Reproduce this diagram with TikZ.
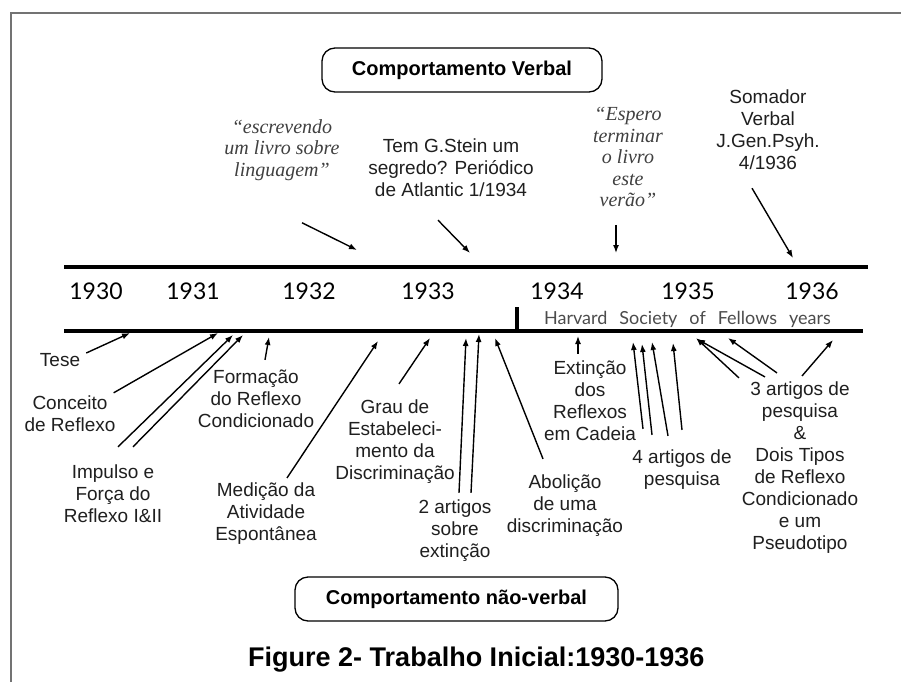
\documentclass[tikz,border=0pt]{standalone}
\usepackage{fontspec}
\setmainfont{Liberation Sans}
\newfontfamily\quotefont{Liberation Serif}
\newfontfamily\yearfont{Lato}
\usetikzlibrary{arrows.meta}

\begin{document}
\begin{tikzpicture}[x=1pt, y=-1pt,
    lbl/.style={align=center, inner sep=0pt, text=black!88, font=\fontsize{19}{22}\selectfont},
    quo/.style={align=center, inner sep=0pt, text=black!75, font=\quotefont\itshape\fontsize{20}{21.5}\selectfont},
    yr/.style={inner sep=0pt, font=\yearfont\fontsize{23}{23}\selectfont},
    cbox/.style={draw, line width=1.3pt, rounded corners=13pt, minimum height=44pt, font=\bfseries\fontsize{20}{20}\selectfont},
    arr/.style={-{Latex[length=8pt,width=6pt]}, line width=1.4pt},
    bar/.style={line width=4pt}]
  \useasboundingbox[fill=white] (0,0) rectangle (901,682);
  \draw[black!55, line width=2pt] (11,682) -- (11,13) -- (901,13);

  \draw[bar] (64,267) -- (868,267);
  \draw[bar] (64,331) -- (863,331);
  \draw[bar] (517,307) -- (517,331);
  \foreach \yy/\xx in {1930/96,1931/193,1932/309,1933/428,1934/557,1935/688,1936/812}
    \node[yr] (y\yy) at (\xx,291) {\yy};
  \node[inner sep=0pt, text=black!70, font=\yearfont\fontsize{18}{18}\selectfont] (harvard) at (687.5,319) {\spaceskip=12pt\relax Harvard Society of Fellows years};

  \node[cbox, minimum width=280pt] (verbal) at (462,70) {Comportamento Verbal};
  \node[cbox, minimum width=323pt] (naoverbal) at (456.5,599) {Comportamento não-verbal};
  \node[anchor=west, inner sep=0pt, font=\bfseries\fontsize{27}{27}\selectfont] (caption) at (248,660) {Figure 2- Trabalho Inicial:1930-1936};

  \node[quo] (escr) at (282,150) {“escrevendo\\um livro sobre\\linguagem”};
  \node[lbl] (tem) at (451,168) {Tem G.Stein um\\segredo? Periódico\\de Atlantic 1/1934};
  \node[quo] (esp) at (628,157) {“Espero\\terminar\\o livro\\este\\verão”};
  \node[lbl] (som) at (768,130) {Somador\\Verbal\\J.Gen.Psyh.\\4/1936};

  \node[lbl] (tese) at (60,360) {Tese};
  \node[lbl] (conc) at (70,414) {Conceito\\de Reflexo};
  \node[lbl] (imp) at (113,494) {Impulso e\\Força do\\Reflexo I\&II};
  \node[lbl] (form) at (256,399) {Formação\\do Reflexo\\Condicionado};
  \node[lbl] (med) at (266,514) {Medição da\\Atividade\\Espontânea};
  \node[lbl] (grau) at (395,442) {Grau de\\Estabeleci-\\mento da\\Discriminação};
  \node[lbl] (ext) at (455,531) {2 artigos\\sobre\\extinção};
  \node[lbl] (abol) at (565,506) {Abolição\\de uma\\discriminação};
  \node[lbl] (cad) at (590,401) {Extinção\\dos\\Reflexos\\em Cadeia};
  \node[lbl] (quatro) at (682,470) {4 artigos de\\pesquisa};
  \node[lbl] (tres) at (800,468) {3 artigos de\\pesquisa\\\&\\Dois Tipos\\de Reflexo\\Condicionado\\e um\\Pseudotipo};

  \coordinate (pEscr) at (357,250);
  \coordinate (pTem) at (470,253);
  \coordinate (pEsp) at (616,253);
  \coordinate (pSom) at (793,258);
  \coordinate (pTese) at (130,333);
  \coordinate (pConc) at (218,333);
  \coordinate (pImpA) at (233,335);
  \coordinate (pImpB) at (243,335);
  \coordinate (pForm) at (269,337);
  \coordinate (pMed) at (378,341);
  \coordinate (pGrau) at (430,338);
  \coordinate (pExtA) at (466,338);
  \coordinate (pExtB) at (479,334);
  \coordinate (pAbol) at (495,338);
  \coordinate (pCad) at (578,336);
  \coordinate (pQuatroA) at (633,342);
  \coordinate (pQuatroB) at (642,344);
  \coordinate (pQuatroC) at (652,342);
  \coordinate (pQuatroD) at (673,343);
  \coordinate (pTresA) at (696,338);
  \coordinate (pTresB) at (697,339);
  \coordinate (pTresC) at (728,338);
  \coordinate (pTresD) at (833,340);

  \draw[arr] ([xshift=20pt,yshift=-42pt]escr.south) -- (pEscr);
  \draw[arr] ([xshift=-13pt,yshift=-23pt]tem.south) -- (pTem);
  \draw[arr] ([xshift=-12pt,yshift=-18pt]esp.south) -- (pEsp);
  \draw[arr] ([xshift=-16pt,yshift=-18pt]som.south) -- (pSom);

  \draw[arr] ([xshift=6pt,yshift=7pt]tese.east) -- (pTese);
  \draw[arr] ([xshift=-2pt,yshift=3pt]conc.north east) -- (pConc);
  \draw[arr] ([xshift=5pt,yshift=18pt]imp.north) -- (pImpA);
  \draw[arr] ([xshift=20pt,yshift=18pt]imp.north) -- (pImpB);
  \draw[arr] ([xshift=9pt,yshift=10pt]form.north) -- (pForm);
  \draw[arr] ([xshift=21pt,yshift=5pt]med.north) -- (pMed);
  \draw[arr] ([xshift=4pt,yshift=16pt]grau.north) -- (pGrau);
  \draw[arr] ([xshift=4pt,yshift=7pt]ext.north) -- (pExtA);
  \draw[arr] ([xshift=16pt,yshift=7pt]ext.north) -- (pExtB);
  \draw[arr] ([xshift=-22pt,yshift=16pt]abol.north) -- (pAbol);
  \draw[arr] ([xshift=-12pt,yshift=7pt]cad.north) -- (pCad);
  \draw[arr] ([xshift=-39pt,yshift=21pt]quatro.north) -- (pQuatroA);
  \draw[arr] ([xshift=-30pt,yshift=15pt]quatro.north) -- (pQuatroB);
  \draw[arr] ([xshift=-14pt,yshift=14pt]quatro.north) -- (pQuatroC);
  \draw[arr] ([xshift=0pt,yshift=20pt]quatro.north) -- (pQuatroD);
  \draw[arr] ([xshift=-61pt,yshift=4pt]tres.north) -- (pTresA);
  \draw[arr] ([xshift=-35pt,yshift=5pt]tres.north) -- (pTresB);
  \draw[arr] ([xshift=-23pt,yshift=9pt]tres.north) -- (pTresC);
  \draw[arr] ([xshift=2pt,yshift=6pt]tres.north) -- (pTresD);
\end{tikzpicture}
\end{document}
